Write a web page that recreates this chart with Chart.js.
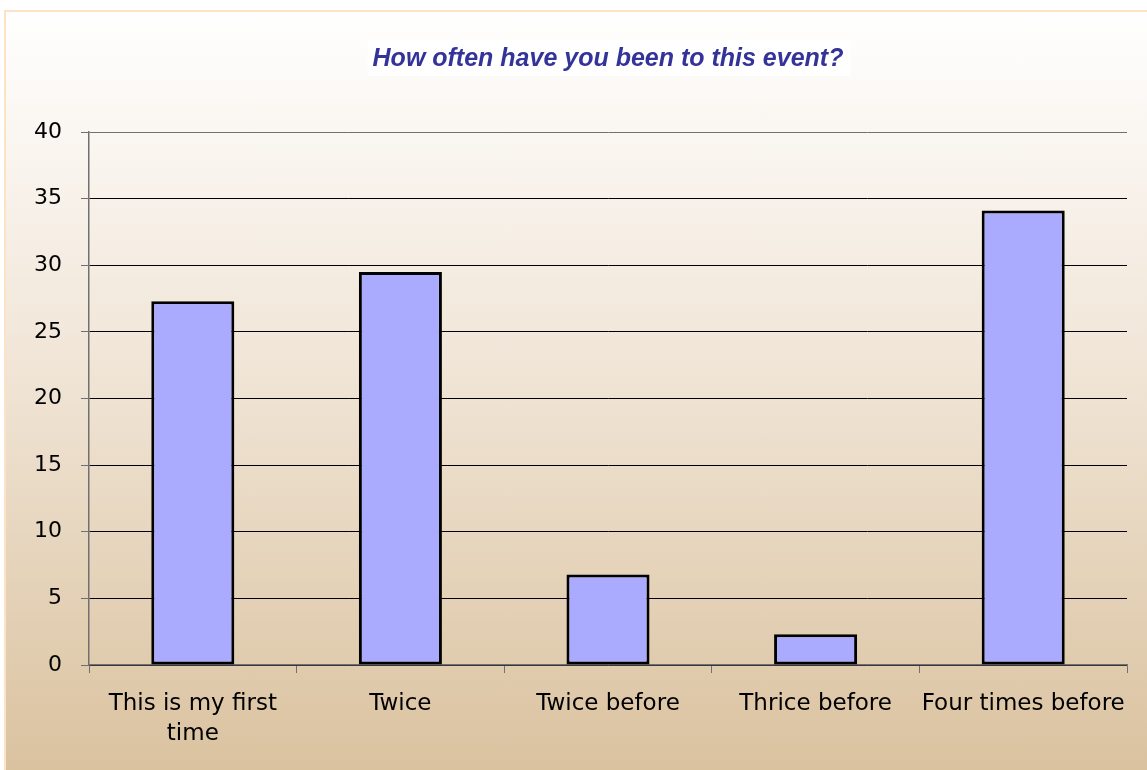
<!DOCTYPE html>
<html>
<head>
<meta charset="utf-8">
<script src="https://cdn.jsdelivr.net/npm/chart.js@4.4.1/dist/chart.umd.min.js"></script>
<style>
  html, body { margin: 0; padding: 0; background: #ffffff; overflow: hidden; }
  #frame {
    position: absolute;
    left: 4px;
    top: 10px;
    width: 1143px;
    height: 760px;
    border-top: 2px solid #fde2c6;
    border-left: 2px solid #fde2c6;
    background: linear-gradient(to bottom, #ffffff 0%, #f1e6d8 45%, #dac29f 100%);
  }
  #chart { display: block; }
</style>
</head>
<body>
<div id="frame"><canvas id="chart" width="1141" height="758"></canvas></div>
<script>
  const chartTitle = "How often have you been to this event?";
  const categories = [["This is my first", "time"], "Twice", "Twice before", "Thrice before", "Four times before"];
  const percentages = [27.3, 29.5, 6.8, 2.3, 34.1];
  const yTicks = [0, 5, 10, 15, 20, 25, 30, 35, 40];

  // title with white box, centred on the plot area
  const titleBox = {
    id: "titleBox",
    afterDraw(chart) {
      const { ctx, chartArea } = chart;
      const cx = (chartArea.left + chartArea.right) / 2;
      ctx.save();
      ctx.font = "italic bold 25px 'Liberation Sans', Arial, sans-serif";
      const w = ctx.measureText(chartTitle).width;
      ctx.fillStyle = "#ffffff";
      ctx.fillRect(cx - w / 2 - 5, 28, w + 12, 36);
      ctx.fillStyle = "#333399";
      ctx.textAlign = "center";
      ctx.textBaseline = "middle";
      ctx.fillText(chartTitle, cx, 47);
      ctx.restore();
    },
  };

  new Chart(document.getElementById("chart"), {
    type: "bar",
    data: {
      labels: categories,
      datasets: [
        {
          data: percentages,
          backgroundColor: "#aaaaff",
          borderColor: "#000000",
          borderWidth: 3,
          borderSkipped: false,
          barPercentage: 0.4,
          categoryPercentage: 1,
        },
      ],
    },
    options: {
      responsive: false,
      animation: false,
      layout: { padding: { top: 120, right: 20, bottom: 0, left: 0 } },
      plugins: {
        legend: { display: false },
        title: { display: false },
        tooltip: { enabled: false },
      },
      scales: {
        x: {
          grid: {
            offset: true,
            drawOnChartArea: false,
            tickLength: 8,
            tickColor: "#707070",
          },
          border: { color: "#707070", width: 1.5 },
          ticks: {
            color: "#000000",
            padding: 16,
            maxRotation: 0,
            autoSkip: false,
            font: { family: "'DejaVu Sans', Verdana, sans-serif", size: 23, lineHeight: 1.3 },
          },
          afterFit(scale) {
            scale.height = 105;
          },
        },
        y: {
          min: 0,
          max: 40,
          afterBuildTicks(scale) {
            scale.ticks = yTicks.map((v) => ({ value: v }));
          },
          grid: {
            color: (c) => (c.tick && c.tick.value === 40 ? "#707070" : "#000000"),
            lineWidth: 1,
            tickLength: 8,
            tickColor: "#707070",
          },
          border: { color: "#707070", width: 1.5 },
          ticks: {
            color: "#000000",
            padding: 19,
            font: { family: "'DejaVu Sans', Verdana, sans-serif", size: 22 },
          },
          afterFit(scale) {
            scale.width = 83;
          },
        },
      },
    },
    plugins: [titleBox],
  });
</script>
</body>
</html>
